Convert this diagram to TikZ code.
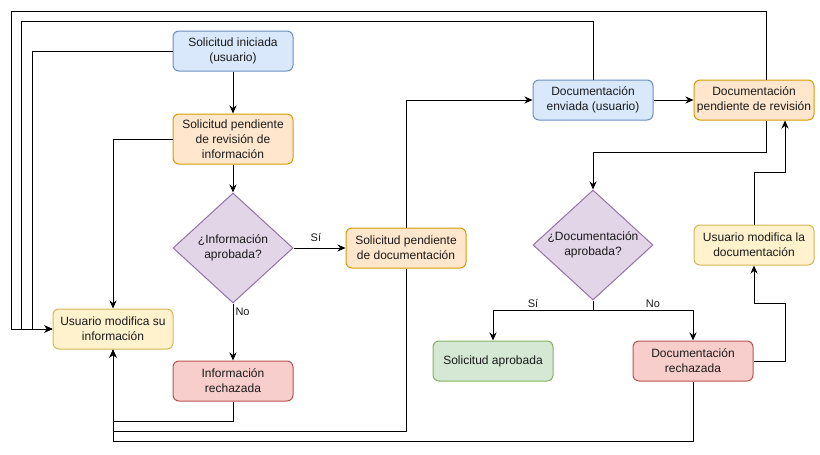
\documentclass[tikz,border=0pt]{standalone}
\usepackage{fontspec}
\setmainfont{Liberation Sans}
\usetikzlibrary{shapes.geometric,arrows.meta}
\definecolor{bluefill}{HTML}{DAE8FC}\definecolor{bluedraw}{HTML}{6C8EBF}
\definecolor{orfill}{HTML}{FFE6CC}\definecolor{ordraw}{HTML}{D79B00}
\definecolor{yelfill}{HTML}{FFF2CC}\definecolor{yeldraw}{HTML}{D6B656}
\definecolor{redfill}{HTML}{F8CECC}\definecolor{reddraw}{HTML}{B85450}
\definecolor{grnfill}{HTML}{D5E8D4}\definecolor{grndraw}{HTML}{82B366}
\definecolor{purfill}{HTML}{E1D5E7}\definecolor{purdraw}{HTML}{9673A6}
\definecolor{txt}{HTML}{1A1A1A}
\tikzset{
  box/.style={rectangle, rounded corners=6pt, minimum width=120pt, minimum height=40pt,
    inner sep=1pt, align=center, line width=1pt, text=txt,
    font=\fontsize{12}{15}\selectfont},
  blue box/.style={box, fill=bluefill, draw=bluedraw},
  orange box/.style={box, fill=orfill, draw=ordraw},
  yellow box/.style={box, fill=yelfill, draw=yeldraw},
  red box/.style={box, fill=redfill, draw=reddraw},
  green box/.style={box, fill=grnfill, draw=grndraw},
  decision/.style={diamond, aspect=1.09, minimum width=120pt, minimum height=110pt,
    inner sep=0pt, align=center, fill=purfill, draw=purdraw, line width=1pt, text=txt,
    font=\fontsize{12}{15}\selectfont},
  arr/.style={line width=1pt, -{Stealth[length=8pt,width=7pt,inset=2.5pt]}},
  lbl/.style={font=\fontsize{11}{13}\selectfont, text=txt, inner sep=2pt}
}
\begin{document}
\begin{tikzpicture}[x=1pt,y=-1pt]
\useasboundingbox (0,0) rectangle (820,455);

% nodes
\node[blue box]   (ini)  at (233,51)  {Solicitud iniciada\\(usuario)};
\node[orange box, minimum height=50pt] (revi) at (233,139) {Solicitud pendiente\\de revisión de\\información};
\node[decision]   (qinf) at (233,248) {¿Información\\aprobada?};
\node[orange box] (pdoc) at (406,248) {Solicitud pendiente\\de documentación};
\node[yellow box] (modi) at (113,329) {Usuario modifica su\\información};
\node[red box]    (rinf) at (233,381) {Información\\rechazada};
\node[blue box]   (env)  at (593,100) {Documentación\\enviada (usuario)};
\node[orange box] (revd) at (754,100) {Documentación\\pendiente de revisión};
\node[decision]   (qdoc) at (593,245) {¿Documentación\\aprobada?};
\node[green box]  (apr)  at (493,361) {Solicitud aprobada};
\node[red box]    (rdoc) at (693,361) {Documentación\\rechazada};
\node[yellow box] (modd) at (754,245) {Usuario modifica la\\documentación};

% main flow
\draw[arr] (ini) -- (revi);
\draw[arr] (revi) -- (qinf);
\draw[arr] (qinf) -- node[lbl, above=4pt, pos=0.43] {Sí} (pdoc);
\draw[arr] (qinf) -- node[lbl, right, pos=0.14] {No} (rinf);
\draw[arr] (revi.west) -| (modi.north);

% loops back to the user correcting information
\draw[arr] (ini.west) -- ++(-140,0) |- (modi.west);
\draw[arr] (env.north) -- ++(0,-58) -| ([xshift=-31pt]modi.west) -- (modi.west);
\draw[arr] ([xshift=12pt]revd.north) -- ++(0,-68) -| ([xshift=-41pt]modi.west) -- (modi.west);
\draw[arr] (rinf.south) -- ++(0,20) -| (modi.south);
\draw[arr] (pdoc.south) -- ++(0,163) -| (modi.south);
\draw[arr] (rdoc.south) -- ++(0,60) -| (modi.south);

% documentation flow
\draw[arr] (pdoc.north) |- (env.west);
\draw[arr] (env) -- (revd);
\draw[arr] ([xshift=12pt]revd.south) -- ++(0,32) -| (qdoc.north);
\draw[arr] (qdoc.south) -- ++(0,10) coordinate (split)
  -| node[lbl, above, pos=0.3] {Sí} (apr.north);
\draw[arr] (split) -| node[lbl, above, pos=0.3] {No} (rdoc.north);
\draw[arr] (rdoc.east) -- ++(32,0) |- ([yshift=-38pt]modd.south) -- (modd.south);
\draw[arr] (modd.north) -- ++(0,-52.5) -| ([xshift=31pt]revd.south);
\end{tikzpicture}
\end{document}
